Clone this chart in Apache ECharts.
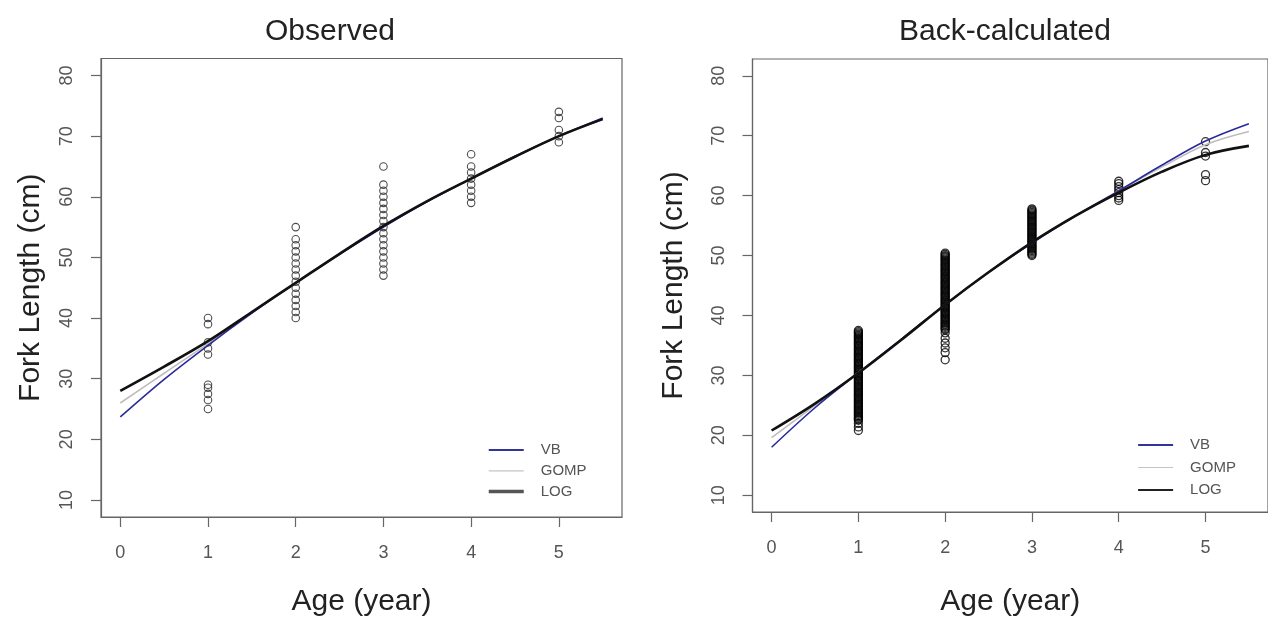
<!DOCTYPE html>
<html>
<head>
<meta charset="utf-8">
<script src="https://cdn.jsdelivr.net/npm/echarts@6/dist/echarts.min.js"></script>
<style>
html,body{margin:0;padding:0;background:#fff;}
#chart{width:1268px;height:622px;}
</style>
</head>
<body>
<div id="chart"></div>
<script>
// ---- data ----
const curveAges = [0, 0.5, 1, 1.5, 2, 2.5, 3, 3.5, 4, 4.5, 5, 5.5];
// Observed panel fitted curves (fork length, cm)
const obsVB   = [23.7, 29.9, 35.5, 40.8, 45.8, 50.5, 55.0, 59.2, 63.0, 66.7, 70.0, 73.0];
const obsGOMP = [26.0, 30.9, 35.8, 40.9, 45.9, 50.6, 55.1, 59.3, 63.0, 66.6, 69.9, 72.8];
const obsLOG  = [28.0, 32.0, 36.2, 41.0, 45.8, 50.6, 55.2, 59.3, 63.0, 66.6, 70.0, 72.8];
// Back-calculated panel fitted curves
const backVB   = [18.0, 24.6, 30.4, 36.1, 41.8, 47.2, 52.1, 56.6, 60.8, 65.1, 69.1, 72.0];
const backGOMP = [19.6, 25.0, 30.5, 36.1, 41.8, 47.2, 52.2, 56.7, 60.8, 64.8, 68.5, 70.7];
const backLOG  = [20.8, 25.3, 30.4, 36.0, 41.8, 47.2, 52.2, 56.6, 60.5, 64.0, 66.8, 68.3];

// Observed lengths by age
const obsAge1 = [40, 39, 36, 35, 34, 29, 28.5, 27.5, 26.5, 25];
const obsAge2 = [55, 53, 52, 51, 50, 49, 48, 47, 46, 45, 44, 43, 42, 41, 40];
const obsAge3 = [65, 62, 61, 60, 59, 58, 57, 56, 55, 54, 53, 52, 51, 50, 49, 48, 47];
const obsAge4 = [67, 65, 64, 63, 62, 61, 60, 59];
const obsAge5 = [74, 73, 71, 70, 69];

// Back-calculated lengths by age
const backAge1 = [20.8, 21.4, 22.0, 22.5, 22.7, 22.9, 23.1, 23.3, 23.5, 23.7, 23.9, 24.1, 24.3, 24.5,
  24.7, 24.9, 25.1, 25.3, 25.5, 25.7, 25.9, 26.1, 26.3, 26.5, 26.7, 26.9, 27.1, 27.3, 27.5, 27.7,
  27.9, 28.1, 28.3, 28.5, 28.7, 28.9, 29.1, 29.3, 29.5, 29.7, 29.9, 30.1, 30.3, 30.5, 30.7, 30.9,
  31.1, 31.3, 31.5, 31.7, 31.9, 32.1, 32.3, 32.5, 32.7, 32.9, 33.1, 33.3, 33.5, 33.7, 33.9, 34.1,
  34.3, 34.5, 34.7, 34.9, 35.1, 35.3, 35.5, 35.7, 35.9, 36.1, 36.3, 36.5, 36.7, 36.9, 37.1, 37.3, 37.5];
const backAge2 = [32.6, 33.8, 34.6, 35.4, 36.2, 37.1, 37.6, 37.8, 38.0, 38.2, 38.4, 38.6, 38.8, 39.0,
  39.2, 39.4, 39.6, 39.8, 40.0, 40.2, 40.4, 40.6, 40.8, 41.0, 41.2, 41.4, 41.6, 41.8, 42.0, 42.2,
  42.4, 42.6, 42.8, 43.0, 43.2, 43.4, 43.6, 43.8, 44.0, 44.2, 44.4, 44.6, 44.8, 45.0, 45.2, 45.4,
  45.6, 45.8, 46.0, 46.2, 46.4, 46.6, 46.8, 47.0, 47.2, 47.4, 47.6, 47.8, 48.0, 48.2, 48.4, 48.6,
  48.8, 49.0, 49.2, 49.4, 49.6, 49.8, 50.0, 50.2, 50.4];
const backAge3 = [50.0, 50.2, 50.4, 50.6, 50.8, 51.0, 51.2, 51.4, 51.6, 51.8, 52.0, 52.2, 52.4, 52.6,
  52.8, 53.0, 53.2, 53.4, 53.6, 53.8, 54.0, 54.2, 54.4, 54.6, 54.8, 55.0, 55.2, 55.4, 55.6, 55.8,
  56.0, 56.2, 56.4, 56.6, 56.8, 57.0, 57.2, 57.4, 57.6, 57.8];
const backAge4 = [59.2, 59.6, 60.0, 60.5, 61.0, 61.5, 62.0, 62.4];
const backAge5 = [69.0, 67.2, 66.6, 63.5, 62.5];

const xTicks = [0, 1, 2, 3, 4, 5];
const yTicks = [10, 20, 30, 40, 50, 60, 70, 80];
const seriesNames = ['VB', 'GOMP', 'LOG'];
const panelTitles = ['Observed', 'Back-calculated'];
const xTitle = 'Age (year)';
const yTitle = 'Fork Length (cm)';

// ---- build ----
const FONT = '"Liberation Sans", Arial, Helvetica, sans-serif';
function pairs(xs, ys) { return xs.map((x, i) => [x, ys[i]]); }
function groupPoints(groups) {
  const out = [];
  groups.forEach((vals, i) => vals.forEach(v => out.push([i + 1, v])));
  return out;
}
const obsPoints = groupPoints([obsAge1, obsAge2, obsAge3, obsAge4, obsAge5]);
const backPoints = groupPoints([backAge1, backAge2, backAge3, backAge4, backAge5]);

function xAxis(gi, gap) {
  return {
    type: 'value', gridIndex: gi, min: -0.22, max: 5.72,
    axisLine: { show: true, onZero: false, lineStyle: { color: '#666', width: 1.2 } },
    axisTick: { show: true, inside: false, customValues: xTicks, length: 10, lineStyle: { color: '#666', width: 1.2 } },
    axisLabel: { customValues: xTicks, margin: 27, fontSize: 18, color: '#555', fontFamily: FONT },
    splitLine: { show: false },
    name: xTitle, nameLocation: 'middle', nameGap: gap,
    nameTextStyle: { fontSize: 30, color: '#222', fontFamily: FONT }
  };
}
function yAxis(gi, gap, margin) {
  return {
    type: 'value', gridIndex: gi, min: 7.2, max: 82.8,
    axisLine: { show: true, onZero: false, lineStyle: { color: '#666', width: 1.2 } },
    axisTick: { show: true, inside: false, customValues: yTicks, length: 10, lineStyle: { color: '#666', width: 1.2 } },
    axisLabel: { customValues: yTicks, rotate: 90, margin: margin, fontSize: 18, color: '#555', fontFamily: FONT },
    splitLine: { show: false },
    name: yTitle, nameLocation: 'middle', nameGap: gap,
    nameTextStyle: { fontSize: 30, color: '#222', fontFamily: FONT }
  };
}
const styles = {
  VB: { color: '#2a2a9c', width: 1.6 },
  GOMP: { color: '#bdbdbd', width: 1.6 },
  LOG: { color: '#111111', width: 2.6 }
};
function curve(name, gi, ys) {
  return {
    type: 'line', name: name, xAxisIndex: gi, yAxisIndex: gi,
    data: pairs(curveAges, ys), smooth: 0.35, symbol: 'none', showSymbol: false,
    z: name === 'LOG' ? 5 : (name === 'VB' ? 4 : 3),
    lineStyle: { color: styles[name].color, width: styles[name].width },
    itemStyle: { color: styles[name].color }
  };
}
function scatter(gi, pts, size, stroke, bw) {
  return {
    type: 'scatter', name: 'points' + gi, xAxisIndex: gi, yAxisIndex: gi, data: pts,
    symbol: 'circle', symbolSize: size, z: 2, silent: true,
    itemStyle: { color: 'rgba(255,255,255,0)', borderColor: stroke, borderWidth: bw }
  };
}
function legend(left, top, gap, logStyle) {
  const hide = { opacity: 0 };
  return {
    show: true, orient: 'vertical', left: left, top: top, padding: 0,
    itemWidth: 35, itemHeight: 12, itemGap: gap,
    selectedMode: false,
    textStyle: { fontSize: 15, color: '#555', fontFamily: FONT, padding: [0, 0, 0, 12] },
    data: [
      { name: 'VB', itemStyle: hide, lineStyle: { color: '#33339e', width: 2 } },
      { name: 'GOMP', itemStyle: hide, lineStyle: { color: '#c4c4c4', width: 1.2 } },
      { name: 'LOG', itemStyle: hide, lineStyle: logStyle }
    ]
  };
}

const option = {
  animation: false,
  backgroundColor: '#ffffff',
  textStyle: { fontFamily: FONT },
  grid: [
    { left: 101, top: 58.5, width: 521, height: 461, show: true, borderColor: '#666', borderWidth: 1.2, backgroundColor: 'transparent' },
    { left: 752.5, top: 59, width: 516, height: 455.5, show: true, borderColor: '#666', borderWidth: 1.2, backgroundColor: 'transparent' }
  ],
  graphic: [
    { type: 'text', x: 330, y: 32, style: { text: panelTitles[0], font: '30px ' + FONT, fill: '#222', textAlign: 'center', textVerticalAlign: 'middle' } },
    { type: 'text', x: 1005, y: 32, style: { text: panelTitles[1], font: '30px ' + FONT, fill: '#222', textAlign: 'center', textVerticalAlign: 'middle' } }
  ],
  legend: [
    legend(487, 442.5, 5.8, { color: '#555', width: 3.5 }),
    legend(1137, 437.5, 7.5, { color: '#222', width: 2.2 })
  ],
  xAxis: [xAxis(0, 70), xAxis(1, 75)],
  yAxis: [yAxis(0, 55, 25), yAxis(1, 64, 24)],
  series: [
    scatter(0, obsPoints, 7.5, '#222', 1.1),
    curve('GOMP', 0, obsGOMP), curve('VB', 0, obsVB), curve('LOG', 0, obsLOG),
    scatter(1, backPoints, 8, '#000', 1.3),
    curve('GOMP', 1, backGOMP), curve('VB', 1, backVB), curve('LOG', 1, backLOG)
  ]
};
const chart = echarts.init(document.getElementById('chart'), null, { renderer: 'canvas' });
chart.setOption(option);
</script>
</body>
</html>
